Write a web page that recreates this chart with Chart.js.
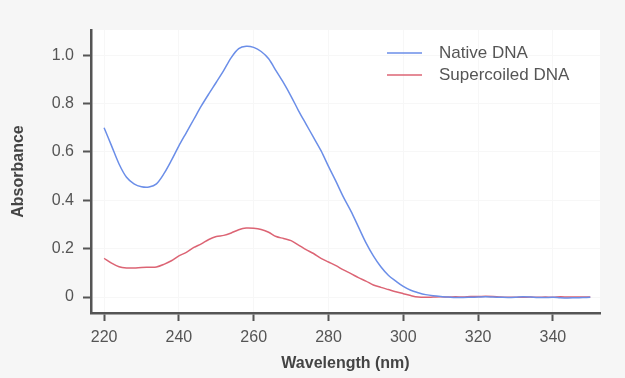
<!DOCTYPE html>
<html>
<head>
<meta charset="utf-8">
<script src="https://cdn.jsdelivr.net/npm/chart.js@4"></script>
<style>
	body { margin: 0; background: #f6f6f6; }
	#wrap { width: 625px; height: 378px; }
</style>
</head>
<body>
<div id="wrap"><canvas id="main_chart" width="625" height="378"></canvas></div>
<script>
const wavelengths = [220, 222, 224, 226, 228, 230, 232, 234, 236, 238, 240, 242, 244, 246, 248, 250, 252, 254, 256, 258,
	260, 262, 264, 266, 268, 270, 272, 274, 276, 278, 280, 282, 284, 286, 288, 290, 292, 294, 296, 298,
	300, 302, 304, 306, 308, 310, 312, 314, 316, 318, 320, 322, 324, 326, 328, 330, 332, 334, 336, 338,
	340, 342, 344, 346, 348, 350];

const nativeDNA = [0.70, 0.625, 0.55, 0.495, 0.468, 0.456, 0.455, 0.468, 0.51, 0.565, 0.625, 0.68, 0.735, 0.79, 0.84, 0.888, 0.937, 0.99, 1.027, 1.037,
	1.032, 1.015, 0.985, 0.935, 0.885, 0.83, 0.77, 0.715, 0.66, 0.605, 0.54, 0.478, 0.413, 0.355, 0.29, 0.225, 0.17, 0.125, 0.09, 0.066,
	0.044, 0.028, 0.018, 0.01, 0.005, 0.002, 0.0, -0.002, -0.002, -0.001, 0.0, 0.001, 0.0, -0.001, -0.002, -0.001, 0.001, 0.0, -0.002, -0.002,
	-0.001, -0.003, -0.004, -0.003, -0.002, -0.001];

const supercoiledDNA = [0.16, 0.14, 0.125, 0.12, 0.12, 0.122, 0.123, 0.124, 0.135, 0.15, 0.17, 0.185, 0.205, 0.22, 0.238, 0.25, 0.255, 0.265, 0.278, 0.285,
	0.284, 0.279, 0.268, 0.25, 0.242, 0.233, 0.215, 0.196, 0.18, 0.16, 0.145, 0.13, 0.112, 0.097, 0.08, 0.066, 0.05, 0.04, 0.031, 0.022,
	0.014, 0.006, 0.0, -0.001, 0.0, 0.001, 0.0, 0.001, 0.0, 0.002, 0.002, 0.003, 0.002, 0.0, -0.001, -0.001, -0.001, 0.0, -0.001, 0.0,
	-0.001, 0.001, 0.0, 0.0, 0.0, 0.0];

const seriesNames = ["Native DNA", "Supercoiled DNA"];
const seriesColors = ["#6b8ee8", "#dc6474"];

function toPoints(values) {
	return wavelengths.map((w, i) => ({ x: w, y: values[i] }));
}

// white plot area on grey page
const plotBackground = {
	id: 'plotBackground',
	beforeDraw(chart) {
		const { ctx, chartArea: a } = chart;
		ctx.save();
		ctx.fillStyle = '#ffffff';
		ctx.fillRect(a.left, a.top, a.right - a.left, a.bottom - a.top);
		ctx.restore();
	}
};

// two-row legend inside the plot, top right
const insideLegend = {
	id: 'insideLegend',
	afterDraw(chart) {
		const ctx = chart.ctx;
		ctx.save();
		ctx.font = '17px "Liberation Sans", Arial, sans-serif';
		ctx.textBaseline = 'middle';
		chart.data.datasets.forEach((ds, i) => {
			const y = 53 + i * 22;
			ctx.strokeStyle = ds.borderColor;
			ctx.lineWidth = 1.5;
			ctx.beginPath();
			ctx.moveTo(387, y);
			ctx.lineTo(422, y);
			ctx.stroke();
			ctx.fillStyle = '#555555';
			ctx.fillText(ds.label, 439, y);
		});
		ctx.restore();
	}
};

const tickFont = { size: 16, family: '"Liberation Sans", Arial, sans-serif' };
const titleFont = { size: 16, weight: 'bold', family: '"Liberation Sans", Arial, sans-serif' };

new Chart(document.getElementById('main_chart'), {
	type: 'line',
	data: {
		datasets: [
			{
				label: seriesNames[0],
				data: toPoints(nativeDNA),
				borderColor: seriesColors[0],
				borderWidth: 1.5,
				pointRadius: 0,
				tension: 0.3,
			},
			{
				label: seriesNames[1],
				data: toPoints(supercoiledDNA),
				borderColor: seriesColors[1],
				borderWidth: 1.5,
				pointRadius: 0,
				tension: 0.3,
			},
		],
	},
	options: {
		responsive: false,
		animation: false,
		layout: {
			padding: { top: 30, right: 25, left: 0, bottom: 0 },
		},
		plugins: {
			legend: { display: false },
			tooltip: { enabled: false },
		},
		scales: {
			x: {
				type: 'linear',
				min: 216.5,
				max: 352.6,
				afterFit(scale) { scale.height = 65; },
				border: { color: '#555555', width: 2.5 },
				grid: {
					color: '#f7f7f7',
					tickColor: '#555555',
					tickLength: 8,
					tickWidth: 2,
				},
				ticks: {
					stepSize: 20,
					includeBounds: false,
					color: '#555555',
					font: tickFont,
					padding: 7,
					maxRotation: 0,
				},
				title: {
					display: true,
					text: 'Wavelength (nm)',
					color: '#444444',
					font: titleFont,
					padding: { top: 0, bottom: 5 },
				},
			},
			y: {
				min: -0.066,
				max: 1.104,
				afterFit(scale) { scale.width = 91; },
				border: { color: '#555555', width: 2.5 },
				grid: {
					color: '#f7f7f7',
					tickColor: '#555555',
					tickLength: 8,
					tickWidth: 2,
				},
				ticks: {
					stepSize: 0.2,
					includeBounds: false,
					color: '#555555',
					font: tickFont,
					padding: 9,
					callback: (v) => (Math.abs(v) < 1e-9 ? '0' : v.toFixed(1)),
				},
				title: {
					display: true,
					text: 'Absorbance',
					color: '#444444',
					font: titleFont,
					padding: { top: 9, bottom: 0 },
				},
			},
		},
	},
	plugins: [plotBackground, insideLegend],
});
</script>
</body>
</html>
